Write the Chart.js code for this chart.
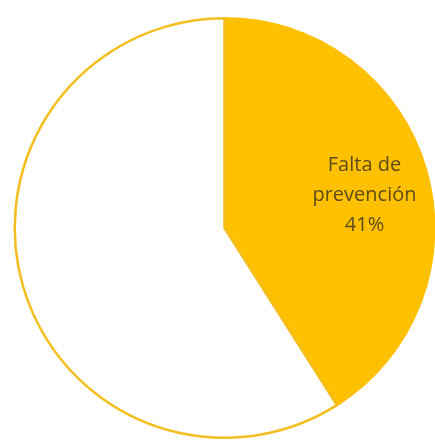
<!DOCTYPE html>
<html>
<head>
<meta charset="utf-8">
<script src="https://cdn.jsdelivr.net/npm/chart.js@4.4.0/dist/chart.umd.min.js"></script>
<style>
  html, body { margin: 0; padding: 0; background: #fff; overflow: hidden; }
  #wrap { position: absolute; left: 0; top: 0; width: 450px; height: 444px; }
</style>
</head>
<body>
<div id="wrap"><canvas id="pie"></canvas></div>
<script>
// data
const labels = ['Falta de prevención', 'Otros'];
const values = [41, 59];
const labelLines = [['Falta de', 'prevención', '41%'], null];

const fills   = ['#FFC000', '#FFFFFF'];
const borders = ['#FFC000', '#F3BE1E'];

// Draw the in-slice label for the gold slice only
const sliceLabels = {
  id: 'sliceLabels',
  afterDatasetsDraw(chart) {
    const ctx = chart.ctx;
    const meta = chart.getDatasetMeta(0);
    meta.data.forEach((arc, i) => {
      const lines = labelLines[i];
      if (!lines) return;
      const {x, y, startAngle, endAngle, outerRadius} = arc.getProps(['x', 'y', 'startAngle', 'endAngle', 'outerRadius'], true);
      const mid = (startAngle + endAngle) / 2;
      const r   = outerRadius * 0.69;
      const cx  = x + Math.cos(mid) * r + 1;
      const cy  = y + Math.sin(mid) * r + 8;
      ctx.save();
      ctx.fillStyle = '#5e4c16';
      ctx.font = '20px "Open Sans", sans-serif';
      ctx.textAlign = 'center';
      ctx.textBaseline = 'middle';
      const lh = 30;
      lines.forEach((t, k) => ctx.fillText(t, cx, cy + (k - (lines.length - 1) / 2) * lh));
      ctx.restore();
    });
  }
};

new Chart(document.getElementById('pie').getContext('2d'), {
  type: 'pie',
  data: {
    labels,
    datasets: [{
      data: values,
      backgroundColor: fills,
      borderColor: borders,
      borderWidth: 2.5,
    }],
  },
  options: {
    responsive: true, maintainAspectRatio: false, animation: false,
    layout: {padding: {left: 13.5, right: 14.5, top: 17, bottom: 5}},
    plugins: {legend: {display: false}, tooltip: {enabled: false}},
  },
  plugins: [sliceLabels],
});
</script>
</body>
</html>
